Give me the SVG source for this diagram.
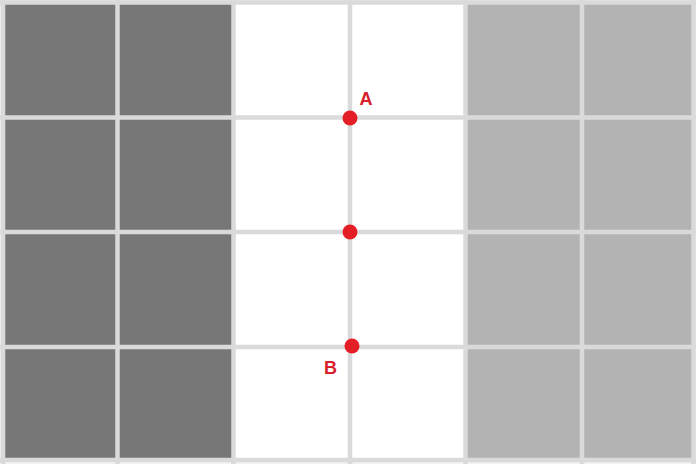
<svg xmlns="http://www.w3.org/2000/svg" width="696" height="464" viewBox="0 0 696 464">
<style>
.dark{fill:#777777}
.light{fill:#b3b3b3}
.white{fill:#ffffff}
.grid line{stroke:#dadada;stroke-width:4.5}
.dot{fill:#e41e26}
.lbl{font-family:"Liberation Sans",Arial,sans-serif;font-weight:bold;font-size:18px;fill:#d9202a}
</style>
<rect width="696" height="464" fill="#f2f2f2"/>
<g id="cells">
<rect class="dark" x="3" y="2.5" width="230.5" height="458"/>
<rect class="white" x="233.5" y="2.5" width="232" height="458"/>
<rect class="light" x="465.5" y="2.5" width="228" height="458"/>
</g>
<g class="grid" id="grid">
<line x1="3" y1="0" x2="3" y2="464"/>
<line x1="117.5" y1="0" x2="117.5" y2="464"/>
<line x1="233.5" y1="0" x2="233.5" y2="464"/>
<line x1="350" y1="0" x2="350" y2="464"/>
<line x1="465.5" y1="0" x2="465.5" y2="464"/>
<line x1="582" y1="0" x2="582" y2="464"/>
<line x1="693.5" y1="0" x2="693.5" y2="464"/>
<line x1="0" y1="2.5" x2="696" y2="2.5"/>
<line x1="0" y1="117.5" x2="696" y2="117.5"/>
<line x1="0" y1="232" x2="696" y2="232"/>
<line x1="0" y1="347" x2="696" y2="347"/>
<line x1="0" y1="460" x2="696" y2="460"/>
</g>
<g id="pointA">
<circle class="dot" cx="350" cy="118" r="7.5"/>
<text class="lbl" x="359.5" y="105">A</text>
</g>
<g id="pointMid">
<circle class="dot" cx="350" cy="232" r="7.5"/>
</g>
<g id="pointB">
<circle class="dot" cx="352" cy="346" r="7.5"/>
<text class="lbl" x="324" y="374">B</text>
</g>
</svg>
